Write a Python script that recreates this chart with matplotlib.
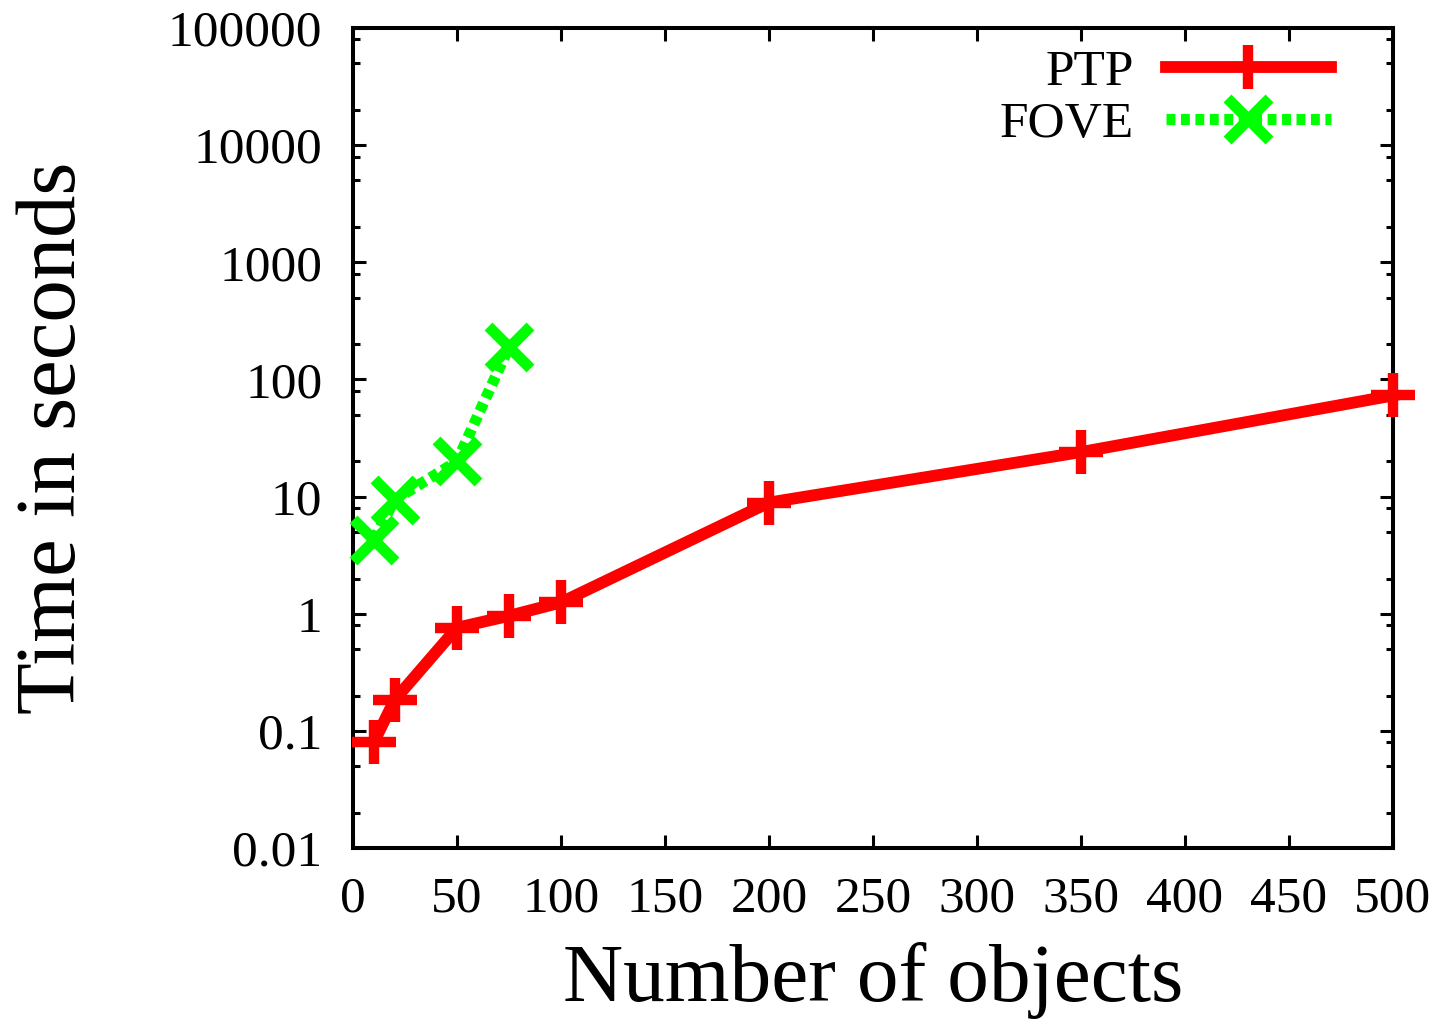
import matplotlib
matplotlib.use("Agg")
import matplotlib.pyplot as plt
from matplotlib.ticker import LogLocator, FixedLocator, FuncFormatter, NullFormatter

plt.rcParams['font.family'] = ['Liberation Serif', 'DejaVu Serif']

# data
objects = [10, 20, 50, 75, 100, 200, 350, 500]
ptp_time = [0.08, 0.184, 0.76, 0.96, 1.25, 8.9, 24, 73]
fove_objects = [10, 20, 50, 75]
fove_time = [4.3, 9.4, 20, 190]
xticks = [0, 50, 100, 150, 200, 250, 300, 350, 400, 450, 500]
yticks = [0.01, 0.1, 1, 10, 100, 1000, 10000, 100000]

fig = plt.figure(figsize=(14.45, 10.23), dpi=100)
ax = fig.add_axes([0.2443, 0.171, 0.7197, 0.8016])

ax.plot(objects, ptp_time, color='#ff0000', lw=8.5, marker='+', ms=31, mew=7.5,
        label='PTP', clip_on=False, zorder=3)
ax.plot(fove_objects, fove_time, color='#00ff00', lw=8, ls=(0, (0.8, 0.5)),
        dash_capstyle='butt', marker='x', ms=30, mew=8, label='FOVE',
        clip_on=False, zorder=3)

ax.set_yscale('log')
ax.set_xlim(0, 500)
ax.set_ylim(0.01, 100000)
ax.xaxis.set_major_locator(FixedLocator(xticks))
ax.yaxis.set_major_locator(FixedLocator(yticks))
ax.yaxis.set_minor_locator(LogLocator(base=10, subs=[2, 5, 8]))
ax.yaxis.set_major_formatter(FuncFormatter(lambda v, p: '%g' % v))
ax.yaxis.set_minor_formatter(NullFormatter())

for s in ax.spines.values():
    s.set_linewidth(2.9)
ax.tick_params(which='both', direction='in', top=True, right=True, width=2.2)
ax.tick_params(which='major', length=9.4, labelsize=37)
ax.tick_params(axis='y', which='major', pad=22)
ax.tick_params(axis='x', which='major', pad=20)
ax.tick_params(which='minor', length=5)

ax.set_xlabel('Number of objects', fontsize=60, labelpad=14)
ax.set_ylabel('Time in seconds', fontsize=61, labelpad=54)

ax.legend(loc='upper right', bbox_to_anchor=(0.94, 0.975), frameon=False,
          markerfirst=False, fontsize=37, handlelength=3.2, handletextpad=0.63,
          labelspacing=0.1, borderpad=0, borderaxespad=0)

plt.savefig('out.png', dpi=100)
